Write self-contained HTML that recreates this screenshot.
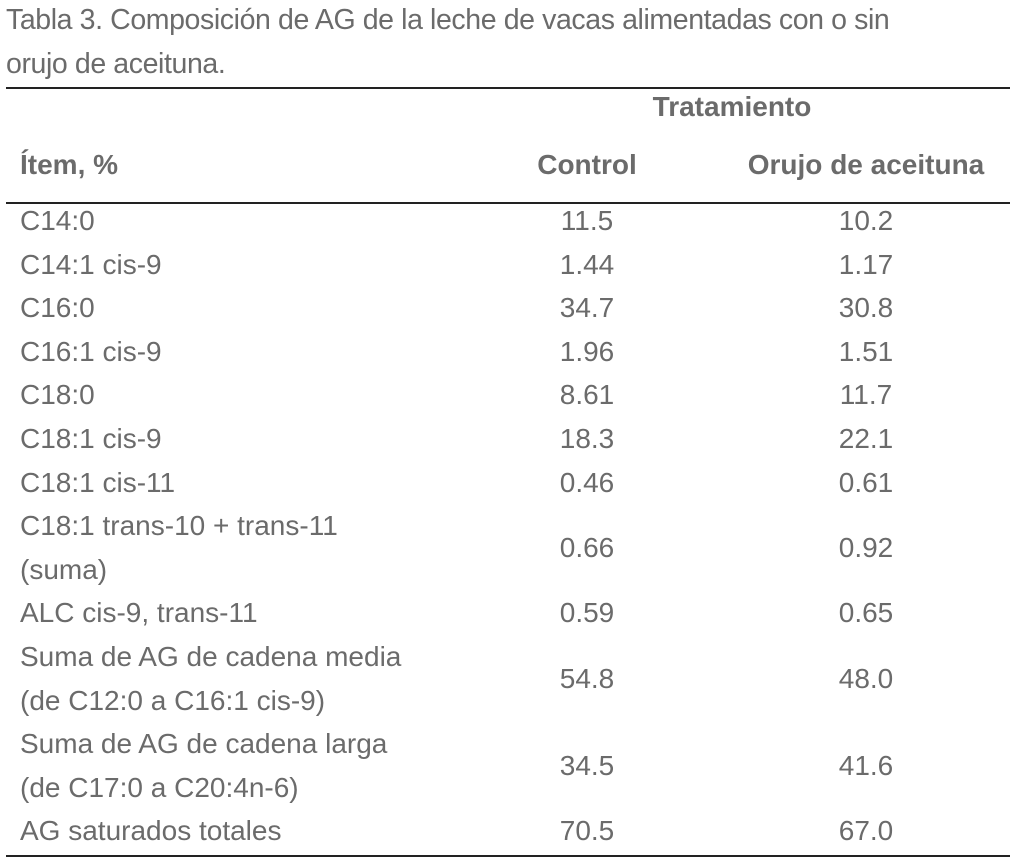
<!DOCTYPE html>
<html><head><meta charset="utf-8"><style>
body{margin:0;width:1023px;height:865px;background:#fff;position:relative;overflow:hidden;font-family:"Liberation Sans",sans-serif;color:#6b6b6b;}
.t{position:absolute;font-size:28px;white-space:nowrap;line-height:44px;}
.title{left:6px;font-size:28.5px;letter-spacing:-0.4px;}
.rule{position:absolute;left:6px;width:1004px;height:1.5px;background:#222;}
.lab{left:20px;}
.c1{left:487px;width:200px;text-align:center;}
.c2{left:741px;width:250px;text-align:center;}
.b{font-weight:bold;}
</style></head><body>
<div class="t title" style="top:-2px">Tabla 3. Composición de AG de la leche de vacas alimentadas con o sin</div>
<div class="t title" style="top:42px">orujo de aceituna.</div>
<div class="rule" style="top:87px"></div>
<div class="t b" style="top:85px;left:612px;width:240px;text-align:center">Tratamiento</div>
<div class="t b lab" style="top:143px">Ítem, %</div>
<div class="t b c1" style="top:143px">Control</div>
<div class="t b c2" style="top:143px">Orujo de aceituna</div>
<div class="rule" style="top:202px"></div>
<div id="rows"></div>
<div class="rule" style="top:855px"></div>
<script>
const labels=[["C14:0"],["C14:1 cis-9"],["C16:0"],["C16:1 cis-9"],["C18:0"],["C18:1 cis-9"],["C18:1 cis-11"],["C18:1 trans-10 + trans-11","(suma)"],["ALC cis-9, trans-11"],["Suma de AG de cadena media","(de C12:0 a C16:1 cis-9)"],["Suma de AG de cadena larga","(de C17:0 a C20:4n-6)"],["AG saturados totales"]];
const control=["11.5","1.44","34.7","1.96","8.61","18.3","0.46","0.66","0.59","54.8","34.5","70.5"];
const orujo=["10.2","1.17","30.8","1.51","11.7","22.1","0.61","0.92","0.65","48.0","41.6","67.0"];
const LH=43.6;let y=199;
labels.forEach((l,i)=>{
  const h=l.length*LH;
  l.forEach((s,j)=>{
    const d=document.createElement('div');d.className='t lab';d.style.top=(y+j*LH)+'px';d.textContent=s;
    
    
    document.body.appendChild(d);
  });
  const vy=y+(h-LH)/2;
  const a=document.createElement('div');a.className='t c1';a.style.top=vy+'px';a.textContent=control[i];
  
  
  document.body.appendChild(a);
  const b=document.createElement('div');b.className='t c2';b.style.top=vy+'px';b.textContent=orujo[i];
  
  
  document.body.appendChild(b);
  y+=h;
});
</script>
</body></html>
